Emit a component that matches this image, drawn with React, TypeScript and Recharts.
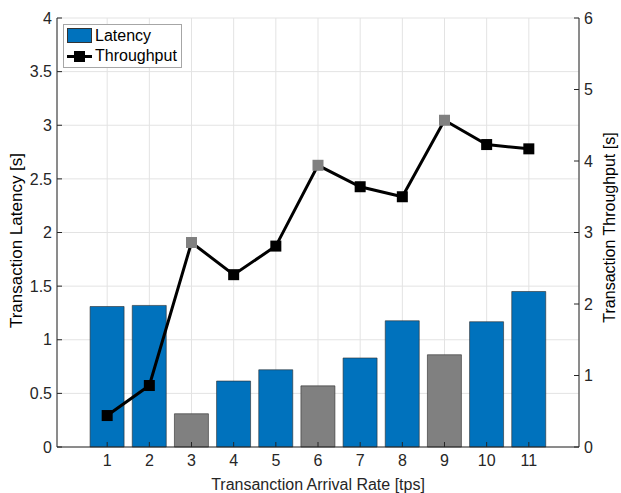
import {
  ComposedChart,
  Bar,
  Line,
  Cell,
  XAxis,
  YAxis,
  CartesianGrid,
} from 'recharts';

const categories = [1, 2, 3, 4, 5, 6, 7, 8, 9, 10, 11];
const latency = [1.31, 1.32, 0.31, 0.615, 0.72, 0.57, 0.83, 1.177, 0.86, 1.168, 1.45];
const throughput = [0.44, 0.86, 2.86, 2.41, 2.81, 3.94, 3.64, 3.5, 4.57, 4.23, 4.17];
const highlighted = [false, false, true, false, false, true, false, false, true, false, false];
const latencyTicks = [0, 0.5, 1, 1.5, 2, 2.5, 3, 3.5, 4];
const throughputTicks = [0, 1, 2, 3, 4, 5, 6];

const BLUE = '#0072bd';
const GRAY = '#808080';
const INK = '#262626';
const FONT = '"Liberation Sans", Arial, sans-serif';

const data = categories.map((rate, i) => ({
  rate,
  latency: latency[i],
  throughput: throughput[i],
  gray: highlighted[i],
}));

const tickStyle = { fontSize: 16, fill: INK, fontFamily: FONT };

function SquareDot(props: any) {
  const { cx, cy, index } = props;
  if (cx == null || cy == null) return null;
  return (
    <rect
      key={index}
      x={cx - 5.5}
      y={cy - 5.5}
      width={11}
      height={11}
      fill={highlighted[index] ? GRAY : '#000'}
    />
  );
}

// vertical axis title, reads bottom-to-top like matlab
function sideLabel(text: string, dx: number, dy: number, size: number) {
  return (props: any) => {
    const vb = props.viewBox;
    const x = vb.x + dx;
    const y = vb.y + vb.height / 2 + dy;
    return (
      <text
        x={x}
        y={y}
        transform={`rotate(-90, ${x}, ${y})`}
        textAnchor="middle"
        dominantBaseline="central"
        fontSize={size}
        fontFamily={FONT}
        fill="#000"
      >
        {text}
      </text>
    );
  };
}

function Legend() {
  return (
    <div
      style={{
        position: 'absolute',
        left: 63,
        top: 24,
        width: 117,
        height: 42,
        border: '1px solid #a6a6a6',
        background: '#fff',
        fontFamily: FONT,
        fontSize: 16,
        color: '#000',
      }}
    >
      <div style={{ position: 'absolute', left: 3, top: 3, width: 25, height: 15, background: BLUE, border: '0.5px solid #333', boxSizing: 'border-box' }} />
      <div style={{ position: 'absolute', left: 31, top: 1, lineHeight: '20px' }}>Latency</div>
      <div style={{ position: 'absolute', left: 3, top: 30, width: 25, height: 3, background: '#000' }} />
      <div style={{ position: 'absolute', left: 10, top: 26, width: 11, height: 11, background: '#000' }} />
      <div style={{ position: 'absolute', left: 31, top: 21, lineHeight: '20px' }}>Throughput</div>
    </div>
  );
}

export default function App() {
  return (
    <div style={{ position: 'absolute', left: 0, top: 0, width: 621, height: 493, background: '#fff' }}>
      <ComposedChart
        width={621}
        height={493}
        data={data}
        margin={{ top: 18, right: 0, bottom: 0, left: 0 }}
        style={{ fontFamily: FONT }}
      >
        <CartesianGrid stroke="#e3e3e3" strokeWidth={1} yAxisId="left" xAxisId="bottom" />
        <XAxis
          xAxisId="bottom"
          dataKey="rate"
          type="number"
          domain={[-0.19, 12.19]}
          ticks={categories}
          interval={0}
          allowDataOverflow
          height={46}
          stroke={INK}
          tick={tickStyle}
          tickSize={-5}
          tickMargin={13}
          label={{
            value: 'Transanction Arrival Rate [tps]',
            position: 'insideBottom',
            offset: 3,
            style: { fontSize: 16, fill: INK, fontFamily: FONT },
          }}
        />
        <XAxis
          xAxisId="top"
          dataKey="rate"
          orientation="top"
          type="number"
          domain={[-0.19, 12.19]}
          ticks={categories}
          interval={0}
          allowDataOverflow
          height={0}
          stroke={INK}
          tick={() => <g />}
          tickSize={-5}
        />
        <YAxis
          yAxisId="left"
          domain={[0, 4]}
          ticks={latencyTicks}
          interval={0}
          width={57}
          stroke={INK}
          tick={tickStyle}
          tickSize={-5}
          tickMargin={10}
          label={{ content: sideLabel('Transaction Latency [s]', 16, 8, 17) }}
        />
        <YAxis
          yAxisId="right"
          orientation="right"
          domain={[0, 6]}
          ticks={throughputTicks}
          interval={0}
          width={42}
          stroke={INK}
          tick={tickStyle}
          tickSize={-5}
          tickMargin={10}
          label={{ content: sideLabel('Transaction Throughput [s]', 30, -5, 16) }}
        />
        <Bar
          xAxisId="bottom"
          yAxisId="left"
          dataKey="latency"
          barSize={34}
          stroke="#2b2b2b"
          strokeWidth={0.6}
          isAnimationActive={false}
        >
          {data.map((d, i) => (
            <Cell key={i} fill={d.gray ? GRAY : BLUE} />
          ))}
        </Bar>
        <Line
          xAxisId="bottom"
          yAxisId="right"
          dataKey="throughput"
          type="linear"
          stroke="#000"
          strokeWidth={3}
          dot={<SquareDot />}
          activeDot={false}
          isAnimationActive={false}
        />
      </ComposedChart>
      <Legend />
    </div>
  );
}
